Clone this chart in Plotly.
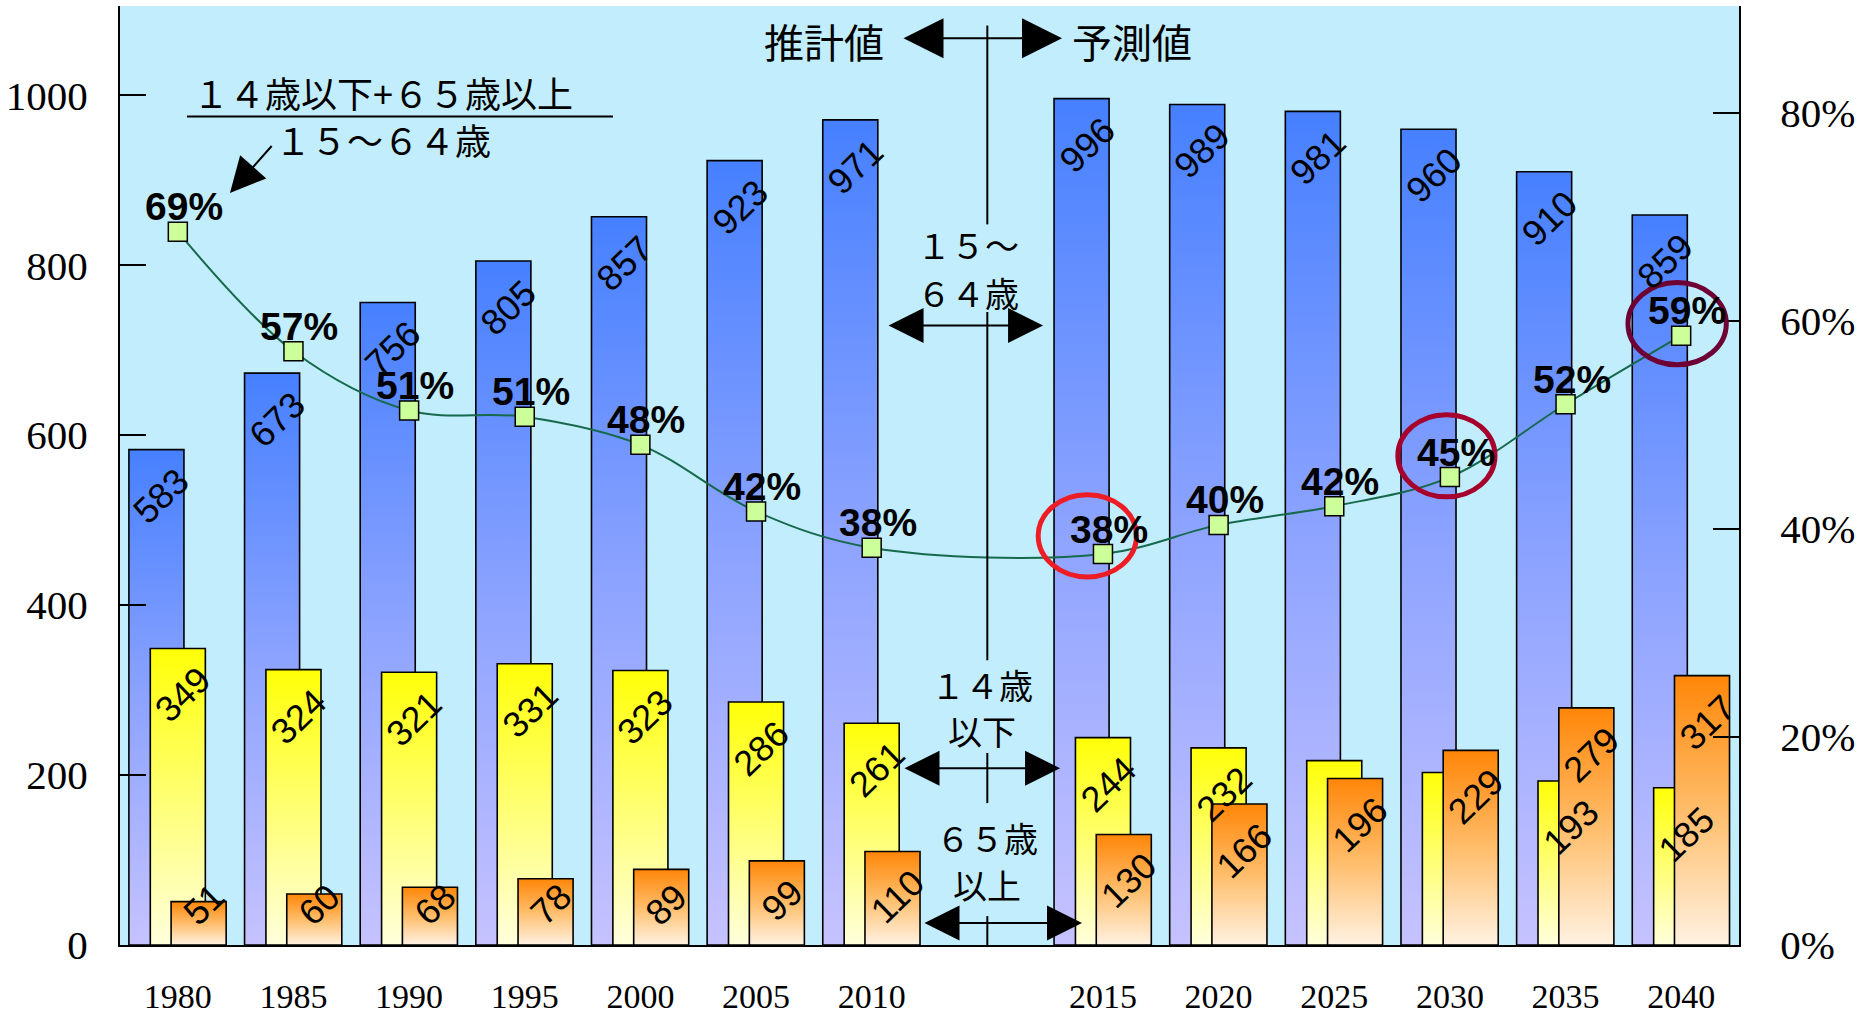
import plotly.graph_objects as go

# ---------------- data ----------------
years = [1980, 1985, 1990, 1995, 2000, 2005, 2010, 2015, 2020, 2025, 2030, 2035, 2040]
age15_64 = [583, 673, 756, 805, 857, 923, 971, 996, 989, 981, 960, 910, 859]
age0_14 = [349, 324, 321, 331, 323, 286, 261, 244, 232, 217, 203, 193, 185]
age65_over = [51, 60, 68, 78, 89, 99, 110, 130, 166, 196, 229, 279, 317]
ratio_pct = [68.6, 57.1, 51.4, 50.8, 48.1, 41.7, 38.2, 37.6, 40.4, 42.2, 45.0, 52.0, 58.6]
label15_64 = [True] * 13
label0_14 = [True] * 9 + [False, False, True, True]
label65 = [True] * 13
y_ticks = [0, 200, 400, 600, 800, 1000]
y2_ticks = [0, 20, 40, 60, 80]
last_estimate_year = 2010

# ---------------- layout helpers ----------------
# one empty slot between the estimate part and the projection part
slots = [i + (1 if y > last_estimate_year else 0) for i, y in enumerate(years)]
i_last = years.index(last_estimate_year)
divider_x = (slots[i_last] + slots[i_last + 1]) / 2

HALF_W = 0.238
SHORT_BAR = 90  # bars shorter than this get their label lifted off the axis
series = [
    (age15_64, -0.185, [[0, "#c6c2ff"], [0.5, "#8ca3ff"], [1, "#4680ff"]], label15_64),
    (age0_14, 0.0, [[0, "#ffffdc"], [1, "#ffff08"]], label0_14),
    (age65_over, 0.18, [[0, "#fff2e2"], [0.5, "#ffbd6a"], [1, "#ff8608"]], label65),
]

fig = go.Figure()
annotations = []
LABEL_FONT = dict(family="Liberation Sans, Arial, sans-serif", size=36, color="black")

for vals, off, cs, show in series:
    for v, sl in zip(vals, slots):
        x0, x1 = sl + off - HALF_W, sl + off + HALF_W
        fig.add_trace(go.Scatter(
            x=[x0, x0, x1, x1, x0], y=[0, v, v, 0, 0],
            mode="lines", fill="toself",
            fillgradient=dict(type="vertical", colorscale=cs, start=0, stop=v),
            line=dict(color="black", width=1.6),
            hoverinfo="skip", showlegend=False,
        ))
for vals, off, cs, show in series:
    for v, sl, s in zip(vals, slots, show):
        if not s:
            continue
        if v < SHORT_BAR:
            pos = dict(y=0, yanchor="bottom", yshift=9)
        else:
            pos = dict(y=v, yanchor="top", yshift=-8)
        annotations.append(dict(
            x=sl + off, xref="x", yref="y", text=str(v),
            textangle=-44, showarrow=False, xanchor="center",
            xshift=5, font=LABEL_FONT, **pos,
        ))

# ratio line
fig.add_trace(go.Scatter(
    x=slots, y=ratio_pct, yaxis="y2", mode="lines+markers",
    line=dict(color="#17694c", width=2, shape="spline", smoothing=1),
    marker=dict(symbol="square", size=19, color="#ccff99", line=dict(color="black", width=1.5)),
    hoverinfo="skip", showlegend=False,
))
for v, sl in zip(ratio_pct, slots):
    annotations.append(dict(
        x=sl, y=v, xref="x", yref="y2", text=f"{round(v)}%", showarrow=False,
        xanchor="center", yanchor="middle", xshift=6, yshift=25,
        font=dict(family="Liberation Sans, Arial, sans-serif", size=39, color="black", weight="bold"),
    ))

JP = "Noto Sans CJK JP"
def txt(x, y, t, size):
    annotations.append(dict(x=x, y=y, xref="x", yref="y", text=t, showarrow=False,
                            xanchor="center", yanchor="middle",
                            font=dict(family=JP, size=size, color="black")))

def darrow(xa, xb, y, size):
    annotations.append(dict(x=xb, y=y, ax=xa, ay=y, xref="x", yref="y", axref="x", ayref="y",
                            text="", showarrow=True, arrowside="end+start",
                            arrowhead=2, startarrowhead=2, arrowsize=size, startarrowsize=size,
                            arrowwidth=2, arrowcolor="black", standoff=0, startstandoff=0))

# top header
txt(5.588, 1064, "推計値", 40)
txt(8.251, 1064, "予測値", 40)
darrow(6.262, 7.646, 1067, 4)

# middle group labels (one annotation per line)
txt(6.83, 824, "１５～", 34)
txt(6.83, 768, "６４歳", 34)
darrow(6.133, 7.482, 729, 3.5)
txt(6.954, 306, "１４歳", 34)
txt(6.954, 252, "以下", 34)
darrow(6.271, 7.629, 208, 3.5)
txt(6.993, 126, "６５歳", 34)
txt(6.993, 71, "以上", 34)
darrow(6.444, 7.819, 26, 3.5)

# formula
txt(1.774, 1004, "１４歳以下+６５歳以上", 36)
txt(1.774, 949, "１５～６４歳", 36)
annotations.append(dict(x=0.451, y=885, ax=0.823, ay=942, xref="x", yref="y", axref="x", ayref="y",
                        text="", showarrow=True, arrowhead=2, arrowsize=3.5, arrowwidth=2,
                        arrowcolor="black", standoff=0))

shapes = []
shapes.append(dict(type="line", xref="x", yref="y", x0=0.079, x1=3.763, y0=975, y1=975,
                   line=dict(color="black", width=2)))
for ya, yb in [(1082, 848), (745, 335), (226, 167), (34, 0)]:
    shapes.append(dict(type="line", xref="x", yref="y", x0=divider_x, x1=divider_x, y0=ya, y1=yb,
                       line=dict(color="black", width=2)))
# highlight ellipses
for (xa, xb, ya, yb, col) in [(7.44, 8.29, 35.4, 43.3, "#ee1c24"),
                              (10.55, 11.39, 43.1, 51.0, "#a6002c"),
                              (12.54, 13.39, 55.8, 63.7, "#6e0033")]:
    shapes.append(dict(type="circle", xref="x", yref="y2", x0=xa, x1=xb, y0=ya, y1=yb,
                       line=dict(color=col, width=5)))

SERIF = "Liberation Serif, Times New Roman, serif"
fig.update_layout(
    width=1860, height=1020,
    margin=dict(l=120, r=121, t=6, b=75),
    paper_bgcolor="white", plot_bgcolor="#c1edfc",
    showlegend=False,
    xaxis=dict(range=[-0.5, 13.5], tickvals=slots, ticktext=[str(y) for y in years],
               showline=True, linecolor="black", linewidth=2, ticks="", showgrid=False,
               zeroline=False, ticklabelstandoff=20, automargin=False,
               tickfont=dict(family=SERIF, size=34, color="black")),
    yaxis=dict(range=[0, 1105], tickvals=y_ticks, ticks="inside", ticklen=26, tickwidth=2,
               tickcolor="black", showline=True, linecolor="black", linewidth=2,
               showgrid=False, zeroline=False, ticklabelstandoff=22, automargin=False,
               tickfont=dict(family=SERIF, size=41, color="black")),
    yaxis2=dict(overlaying="y", side="right", range=[0, 90.3], tickvals=y2_ticks,
                ticktext=[f"{t}%" for t in y2_ticks],
                ticks="inside", ticklen=26, tickwidth=2, tickcolor="black", showline=True,
                linecolor="black", linewidth=2, showgrid=False, zeroline=False,
                ticklabelstandoff=31, automargin=False,
                tickfont=dict(family=SERIF, size=41, color="black")),
    annotations=annotations,
    shapes=shapes,
)

fig.write_html("out.html", config={"displayModeBar": False},
               post_script="document.body.style.margin='0';")
